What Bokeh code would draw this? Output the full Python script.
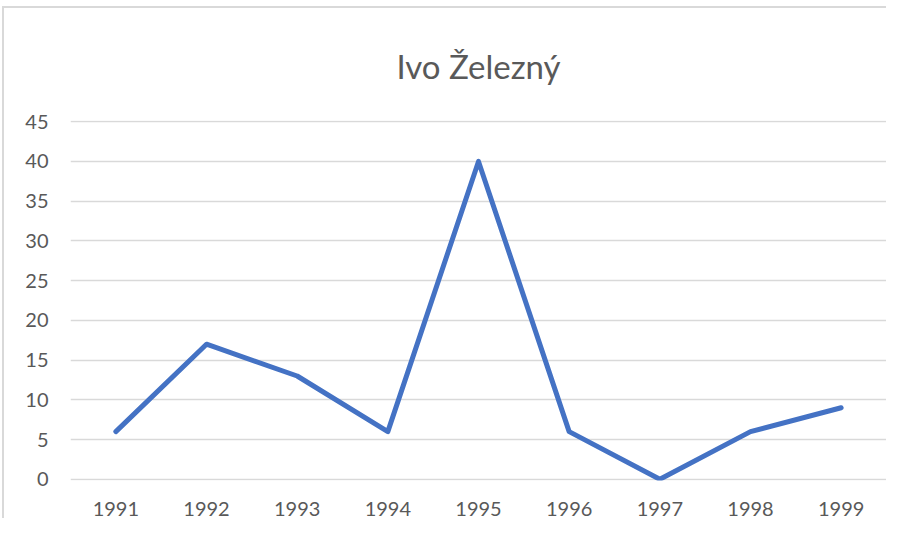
from bokeh.plotting import figure
from bokeh.layouts import column
from bokeh.models import FactorRange, Range1d, FixedTicker
from bokeh.embed import file_html
from bokeh.resources import INLINE

years = ["1991", "1992", "1993", "1994", "1995", "1996", "1997", "1998", "1999"]
values = [6, 17, 13, 6, 40, 6, 0, 6, 9]
y_ticks = [0, 5, 10, 15, 20, 25, 30, 35, 40, 45]
title_text = "Ivo Železný"

FONT = "Lato"
TXT = "#595959"
GRID = "#d9d9d9"

p = figure(
    width=882, height=510,
    x_range=FactorRange(*years, range_padding=0),
    y_range=Range1d(-0.15, 45.15),
    output_backend="svg", toolbar_location=None,
    min_border_left=66, min_border_right=0, min_border_top=98, min_border_bottom=35,
    title=title_text,
)

p.title.align = "center"
p.title.text_font = FONT
p.title.text_font_size = "33px"
p.title.text_font_style = "normal"
p.title.text_color = TXT
p.title.standoff = 70

p.outline_line_color = None
p.background_fill_color = "white"
p.border_fill_color = "white"

p.line(x=years, y=values, line_color="#4472C4", line_width=5, line_join="round", line_cap="round")

p.yaxis.ticker = FixedTicker(ticks=y_ticks)
p.yaxis.axis_line_color = None
p.yaxis.major_tick_line_color = None
p.yaxis.minor_tick_line_color = None
p.yaxis.major_label_standoff = 16
p.yaxis.major_label_text_font = FONT
p.yaxis.major_label_text_font_size = "20px"
p.yaxis.major_label_text_color = TXT

p.xaxis.axis_line_color = None
p.xaxis.major_tick_line_color = None
p.xaxis.minor_tick_line_color = None
p.xaxis.major_label_standoff = 15
p.xaxis.major_label_text_font = FONT
p.xaxis.major_label_text_font_size = "20px"
p.xaxis.major_label_text_color = TXT

p.xgrid.grid_line_color = None
p.ygrid.grid_line_color = GRID
p.ygrid.grid_line_width = 1.5

layout = column(p, styles={"border-left": "2px solid #d9d9d9", "border-top": "2px solid #d9d9d9",
                           "margin-left": "2px", "margin-top": "6px"})

open("out.html", "w").write(file_html(layout, INLINE))
